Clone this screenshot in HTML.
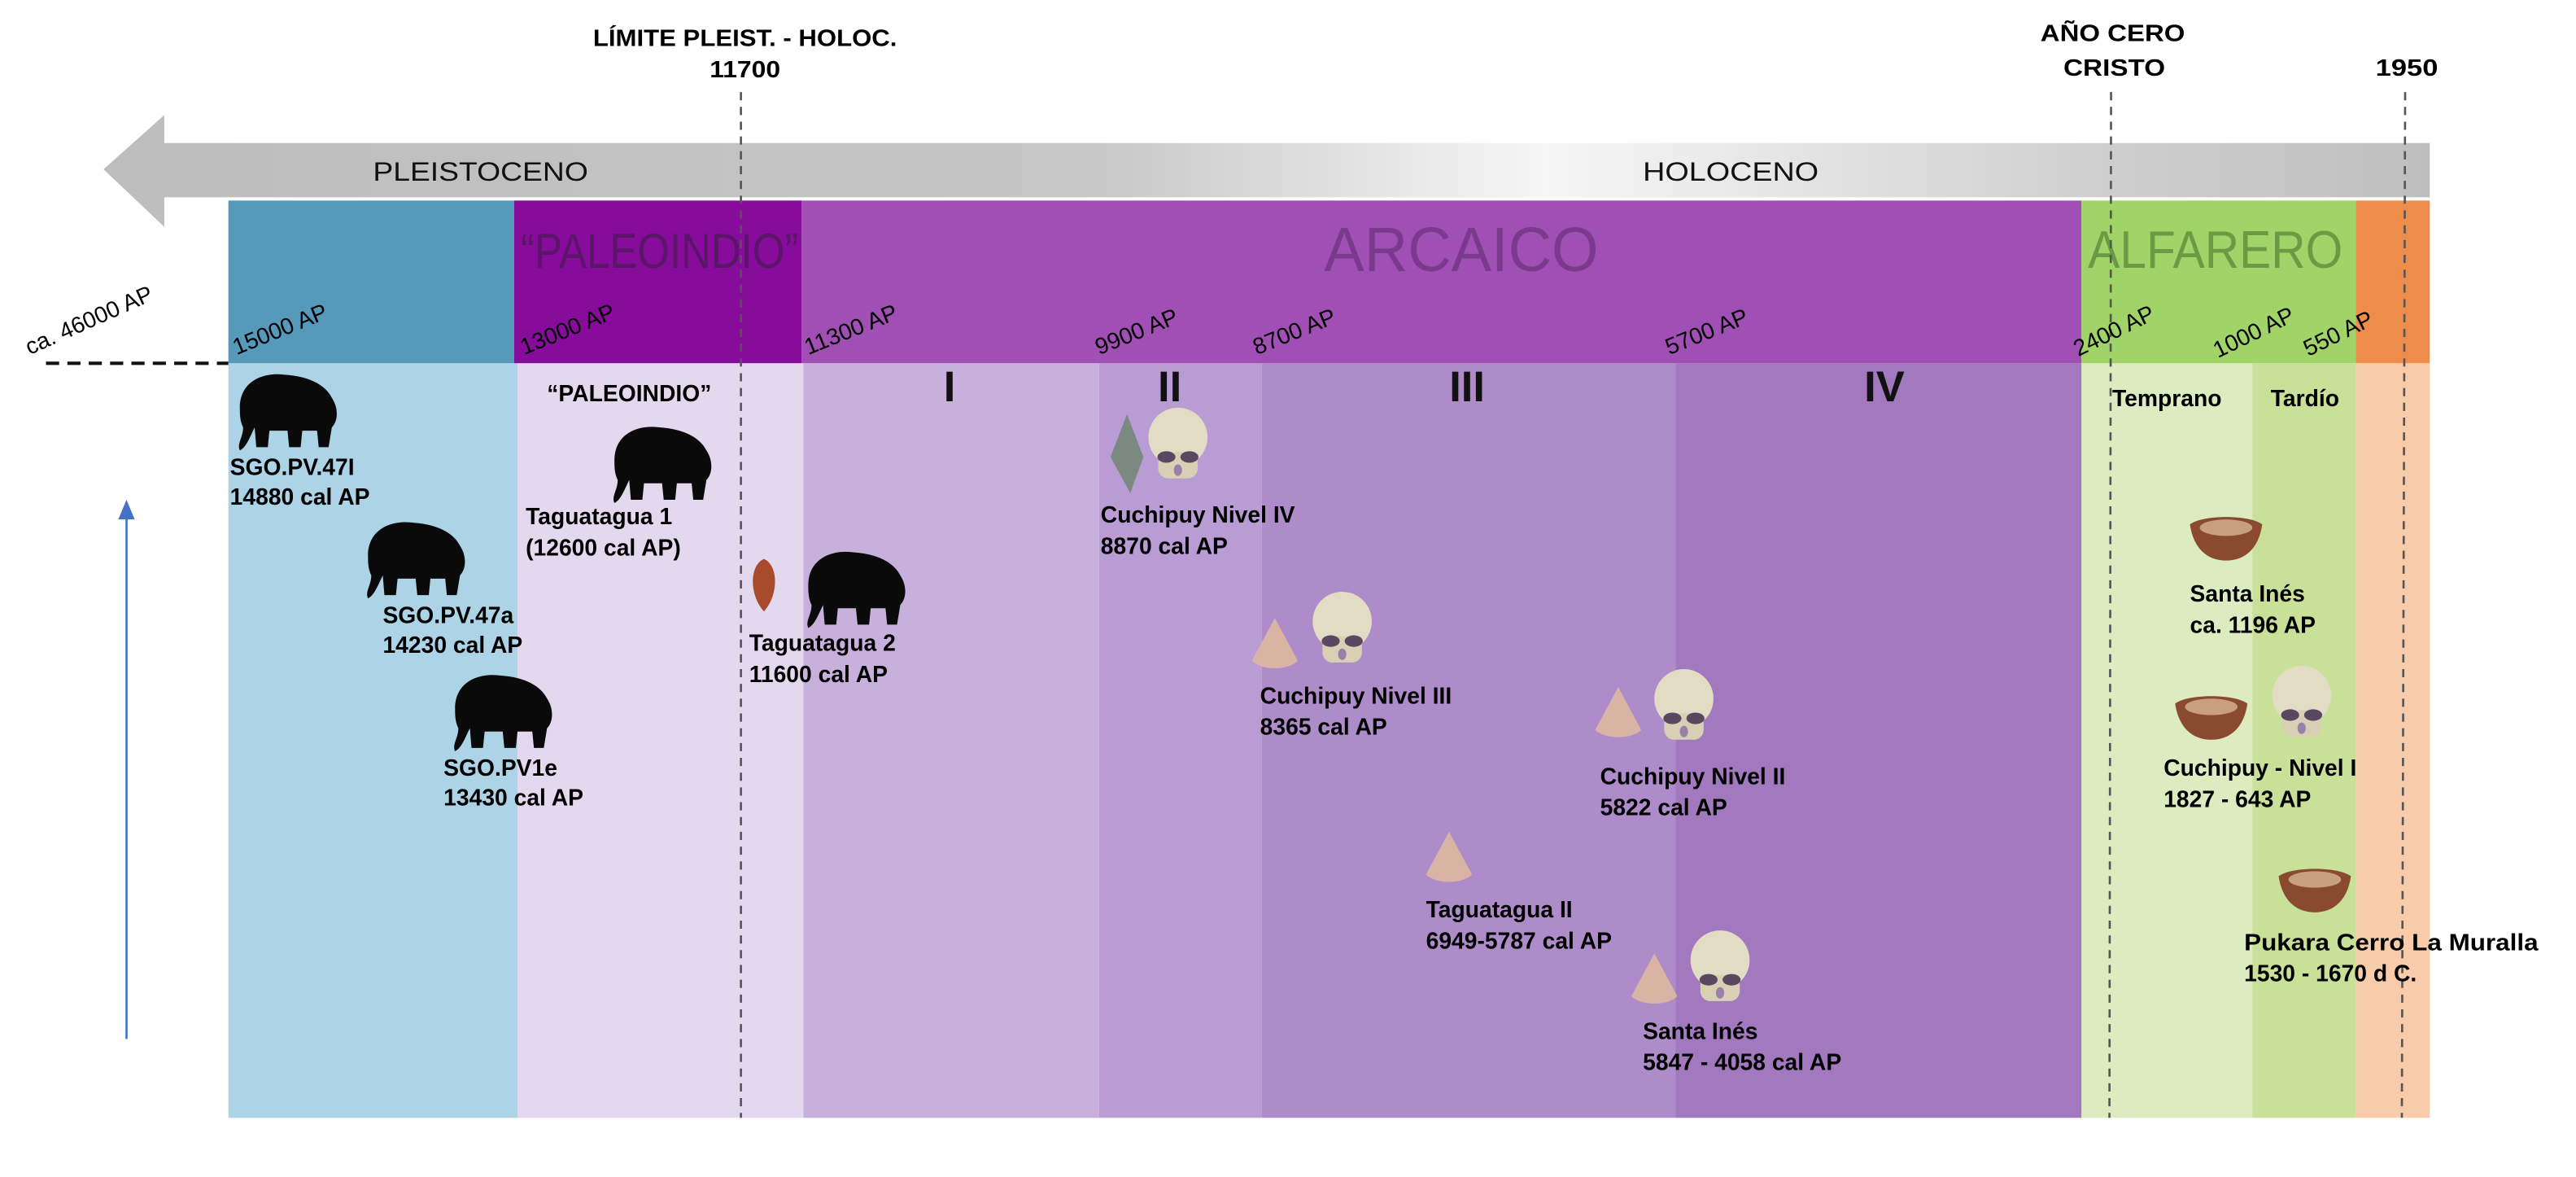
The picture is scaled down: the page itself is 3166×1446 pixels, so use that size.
<!DOCTYPE html>
<html><head><meta charset="utf-8"><style>
html,body{margin:0;padding:0;background:#fff;}
svg{display:block;}
text{font-family:"Liberation Sans",sans-serif;}
.b{font-weight:bold;font-size:14px;fill:#000;}
.d{font-size:14px;fill:#000;}
</style></head><body>
<svg width="3166" height="1446" viewBox="0 0 1568 716" preserveAspectRatio="none" xmlns="http://www.w3.org/2000/svg">
<defs>
<linearGradient id="g" x1="0" x2="1" y1="0" y2="0">
<stop offset="0" stop-color="#bdbdbd"/><stop offset="0.42" stop-color="#c6c6c6"/><stop offset="0.62" stop-color="#f6f6f6"/><stop offset="0.85" stop-color="#d0d0d0"/><stop offset="1" stop-color="#bebebe"/>
</linearGradient>
<g id="ele"><path d="M6,22 C6,6 20,0 34,2 C48,3 58,8 62,16 C66,22 66,30 62,34 L60,46 L54,46 L53,36 L44,36 L43,46 L36,46 L35,36 L24,36 L23,46 L16,46 L15,34 C12,40 10,46 6,48 C4,44 8,40 8,34 C6,30 6,26 6,22 Z" fill="#0a0a0a"/></g>
<g id="sk"><ellipse cx="19" cy="17" rx="18" ry="18" fill="#e2dcc4"/><rect x="7" y="26" width="24" height="16" rx="6" fill="#d8d0b4"/><ellipse cx="12" cy="29" rx="5.5" ry="3.5" fill="#5a4860"/><ellipse cx="26" cy="29" rx="5.5" ry="3.5" fill="#5a4860"/><ellipse cx="19" cy="37" rx="2.5" ry="3.5" fill="#9a80a8"/></g>
<g id="pt"><path d="M14,0 L28,26 C22,32 6,32 0,26 Z" fill="#d9b4a4"/></g>
<g id="pot"><path d="M0,6 C8,0 36,0 44,6 C42,20 34,28 22,28 C10,28 2,20 0,6 Z" fill="#8a4a30"/><ellipse cx="22" cy="8" rx="16" ry="5" fill="#c8a080"/></g>
</defs>
<path d="M100,87 L1479,87 L1479,120 L100,120 L100,138 L63,103 L100,70 Z" fill="url(#g)"/>
<text x="227" y="110" font-size="16" textLength="131" lengthAdjust="spacingAndGlyphs" fill="#111">PLEISTOCENO</text>
<text x="1000" y="110" font-size="16" textLength="107" lengthAdjust="spacingAndGlyphs" fill="#111">HOLOCENO</text>
<rect x="139" y="122" width="174" height="99" fill="#5599bb"/>
<rect x="313" y="122" width="175" height="99" fill="#880c9c"/>
<rect x="488" y="122" width="779" height="99" fill="#a04fb4"/>
<rect x="1267" y="122" width="167" height="99" fill="#a0d468"/>
<rect x="1434" y="122" width="45" height="99" fill="#ee8c4c"/>
<rect x="139" y="221" width="176" height="459" fill="#acd4e6"/>
<rect x="315" y="221" width="174" height="459" fill="#e4d8ee"/>
<rect x="489" y="221" width="180" height="459" fill="#c8b0dc"/>
<rect x="669" y="221" width="99" height="459" fill="#b99cd3"/>
<rect x="768" y="221" width="252" height="459" fill="#ae8cca"/>
<rect x="1020" y="221" width="247" height="459" fill="#a278be"/>
<rect x="1267" y="221" width="104" height="459" fill="#ddecc0"/>
<rect x="1371" y="221" width="63" height="459" fill="#c8e098"/>
<rect x="1434" y="221" width="45" height="459" fill="#f8ccaa"/>
<text x="317" y="163" font-size="30" textLength="169" lengthAdjust="spacingAndGlyphs" fill="#5a1468">“PALEOINDIO”</text>
<text x="806" y="165" font-size="38" textLength="167" lengthAdjust="spacingAndGlyphs" fill="#7a3a8c">ARCAICO</text>
<text x="1271" y="163" font-size="32" textLength="155" lengthAdjust="spacingAndGlyphs" fill="#6a9a44">ALFARERO</text>
<g stroke="#555" stroke-width="1.3" stroke-dasharray="5,4" fill="none">
<line x1="451" y1="56" x2="451" y2="680"/>
<line x1="1285" y1="56" x2="1284" y2="680"/>
<line x1="1464" y1="56" x2="1462" y2="680"/>
</g>
<line x1="28" y1="221" x2="139" y2="221" stroke="#111" stroke-width="2" stroke-dasharray="8,5"/>
<text x="361" y="28" class="b" textLength="185" lengthAdjust="spacingAndGlyphs">LÍMITE PLEIST. - HOLOC.</text>
<text x="432" y="47" class="b" textLength="43" lengthAdjust="spacingAndGlyphs">11700</text>
<text x="1242" y="25" class="b" textLength="88" lengthAdjust="spacingAndGlyphs">AÑO CERO</text>
<text x="1256" y="46" class="b" textLength="62" lengthAdjust="spacingAndGlyphs">CRISTO</text>
<text x="1446" y="46" class="b" textLength="38" lengthAdjust="spacingAndGlyphs">1950</text>
<g>
<text transform="translate(18,216) rotate(-24)" class="d">ca. 46000 AP</text>
<text transform="translate(144,216) rotate(-22)" class="d">15000 AP</text>
<text transform="translate(319,216) rotate(-22)" class="d">13000 AP</text>
<text transform="translate(492,216) rotate(-22)" class="d">11300 AP</text>
<text transform="translate(669,216) rotate(-22)" class="d">9900 AP</text>
<text transform="translate(765,216) rotate(-22)" class="d">8700 AP</text>
<text transform="translate(1016,216) rotate(-22)" class="d">5700 AP</text>
<text transform="translate(1265,217) rotate(-26)" class="d">2400 AP</text>
<text transform="translate(1350,218) rotate(-26)" class="d">1000 AP</text>
<text transform="translate(1405,217) rotate(-26)" class="d">550 AP</text>
</g>
<g font-weight="bold" font-size="26" text-anchor="middle" fill="#111">
<text x="578" y="244">I</text><text x="712" y="244">II</text><text x="893" y="244">III</text><text x="1147" y="244">IV</text>
</g>
<text x="383" y="244" class="b" text-anchor="middle">“PALEOINDIO”</text>
<text x="1319" y="247" class="b" text-anchor="middle">Temprano</text>
<text x="1403" y="247" class="b" text-anchor="middle">Tardío</text>
<line x1="77" y1="632" x2="77" y2="314" stroke="#4472c4" stroke-width="1.3"/>
<path d="M72,316 L77,304 L82,316 Z" fill="#4472c4"/>
<use href="#ele" x="140" y="226"/>
<use href="#ele" x="218" y="316"/>
<use href="#ele" x="271" y="409"/>
<use href="#ele" x="368" y="258"/>
<use href="#ele" x="486" y="334"/>
<path d="M465,340 C456,344 456,362 465,372 C474,362 474,344 465,340 Z" fill="#a84a2c"/>
<path d="M686,252 L696,278 L688,300 L676,278 Z" fill="#7a8a80"/>
<use href="#sk" x="698" y="249"/>
<use href="#pt" x="762" y="376"/>
<use href="#sk" x="798" y="361"/>
<use href="#pt" x="971" y="418"/>
<use href="#sk" x="1006" y="408"/>
<use href="#pt" x="868" y="506"/>
<use href="#pt" x="993" y="580"/>
<use href="#sk" x="1028" y="567"/>
<use href="#pot" x="1333" y="313"/>
<use href="#pot" x="1324" y="422"/>
<use href="#sk" x="1382" y="406"/>
<use href="#pot" x="1387" y="527"/>
<g class="b">
<text x="140" y="289">SGO.PV.47I</text><text x="140" y="307">14880 cal AP</text>
<text x="233" y="379">SGO.PV.47a</text><text x="233" y="397">14230 cal AP</text>
<text x="270" y="472">SGO.PV1e</text><text x="270" y="490">13430 cal AP</text>
<text x="320" y="319">Taguatagua 1</text><text x="320" y="338">(12600 cal AP)</text>
<text x="456" y="396">Taguatagua 2</text><text x="456" y="415">11600 cal AP</text>
<text x="670" y="318">Cuchipuy Nivel IV</text><text x="670" y="337">8870 cal AP</text>
<text x="767" y="428">Cuchipuy Nivel III</text><text x="767" y="447">8365 cal AP</text>
<text x="974" y="477">Cuchipuy Nivel II</text><text x="974" y="496">5822 cal AP</text>
<text x="868" y="558">Taguatagua II</text><text x="868" y="577">6949-5787 cal AP</text>
<text x="1000" y="632">Santa Inés</text><text x="1000" y="651">5847 - 4058 cal AP</text>
<text x="1333" y="366">Santa Inés</text><text x="1333" y="385">ca. 1196 AP</text>
<text x="1317" y="472">Cuchipuy - Nivel I</text><text x="1317" y="491">1827 - 643 AP</text>
<text x="1366" y="578" textLength="179" lengthAdjust="spacingAndGlyphs">Pukara Cerro La Muralla</text><text x="1366" y="597">1530 - 1670 d C.</text>
</g>
</svg>
</body></html>
